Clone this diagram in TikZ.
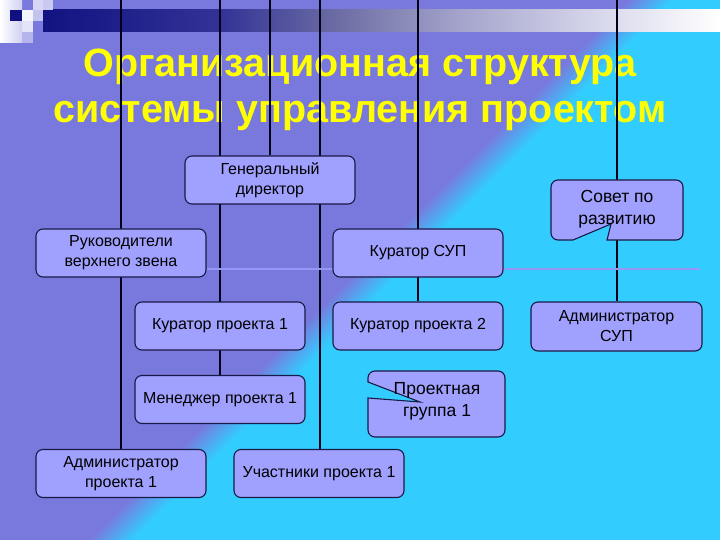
\documentclass[tikz,border=0pt]{standalone}
\usepackage{fontspec}
\setmainfont{Liberation Sans}
\definecolor{bgpurple}{RGB}{121,121,221}
\definecolor{bgcyan}{RGB}{51,204,255}
\definecolor{boxfill}{RGB}{160,160,255}
\definecolor{boxline}{RGB}{25,25,70}
\definecolor{hlinec}{RGB}{150,150,245}
\definecolor{bandA}{RGB}{18,18,130}
\definecolor{bandB}{RGB}{50,50,150}
\definecolor{bandC}{RGB}{110,110,165}
\definecolor{bandD}{RGB}{165,165,205}
\definecolor{bandE}{RGB}{215,215,235}
\definecolor{titleyellow}{RGB}{255,255,0}
\definecolor{sqnavy}{RGB}{16,16,128}
\pgfdeclarehorizontalshading{bandshade}{100bp}{color(0bp)=(bandA); color(25bp)=(bandA); color(38bp)=(bandB); color(47bp)=(bandC); color(56bp)=(bandD); color(66bp)=(bandE); color(75bp)=(white); color(100bp)=(white)}
\pgfdeclarelayer{bgfill}
\pgfdeclarelayer{lines}
\pgfdeclarelayer{shapes}
\pgfsetlayers{bgfill,lines,shapes,main}
\tikzset{
  orgbox/.style={draw=boxline, line width=1.1pt, fill=boxfill, rounded corners=7pt,
    minimum width=170pt, minimum height=48pt, align=center, inner sep=1pt,
    font=\fontsize{16}{20}\selectfont},
  calltext/.style={align=center, inner sep=0pt, font=\fontsize{17.5}{22}\selectfont},
  callout/.style={draw=boxline, line width=1.1pt, fill=boxfill},
  vline/.style={line width=2pt, draw=black!90!blue},
  hline/.style={line width=2pt, draw=hlinec},
}
\begin{document}
\begin{tikzpicture}[x=1pt,y=-1pt]
\useasboundingbox (0,0) rectangle (720,540);
% nodes
\node[orgbox] (gd) at (270,180) {Генеральный\\директор};
\node[orgbox] (ruk) at (121,253) {Руководители\\верхнего звена};
\node[orgbox] (ksup) at (418,253) {Куратор СУП};
\node[calltext] (sovet) at (617,209) {Совет по\\развитию};
\node[orgbox] (kp1) at (220,326) {Куратор проекта 1};
\node[orgbox] (kp2) at (418,326) {Куратор проекта 2};
\node[orgbox, minimum width=171pt, minimum height=49pt] (asup) at (616.5,326.5) {Администратор\\СУП};
\node[orgbox] (mp1) at (220,399.5) {Менеджер проекта 1};
\node[calltext] (pg1) at (437,401) {Проектная\\группа 1};
\node[orgbox] (adm1) at (121,473.5) {Администратор\\проекта 1};
\node[orgbox] (uch) at (319,473.5) {Участники проекта 1};
% callout outlines
\begin{pgfonlayer}{shapes}
\path[callout] (573,240) -- (558,240) arc[start angle=90, end angle=180, radius=7]
  -- (551,187) arc[start angle=180, end angle=270, radius=7]
  -- (676,180) arc[start angle=270, end angle=360, radius=7]
  -- (683,233) arc[start angle=0, end angle=90, radius=7]
  -- (607,240) -- (611,224) -- cycle;
\path[callout] (368,398) -- (368,430) arc[start angle=180, end angle=90, radius=7]
  -- (498,437) arc[start angle=90, end angle=0, radius=7]
  -- (505,378) arc[start angle=0, end angle=-90, radius=7]
  -- (375,371) arc[start angle=270, end angle=180, radius=7]
  -- (368,382) -- (420,402) -- cycle;
\end{pgfonlayer}
% background
\begin{pgfonlayer}{bgfill}
\fill[bgpurple] (0,0) rectangle (720,540);
\foreach \i in {0,...,20} {
  \pgfmathsetmacro\c{628+2.2*\i}
  \pgfmathtruncatemacro\m{\i*5}
  \fill[bgcyan!\m!bgpurple] (\c,0) -- (720,0) -- (720,540) -- (\c-540,540) -- cycle;
}
\shade[shading=bandshade] (43,10) rectangle (720,32);
\shade[left color=white, right color=bgpurple!35!white] (0,0) rectangle (22,43);
\fill[sqnavy] (10,10) rectangle (22,21);
\fill[white!92!bgpurple] (22,10) rectangle (33,21);
\fill[white!55!bgpurple] (33,10) rectangle (43,21);
\fill[white!80!bgpurple] (22,21) rectangle (33,32);
\fill[white!45!bgpurple] (22,32) rectangle (33,43);
\fill[white!60!bgpurple] (43,0) rectangle (53,10);
\fill[white!70!bgpurple] (33,0) rectangle (43,10);
\node[font=\fontsize{39.5}{46}\selectfont\bfseries, text=titleyellow, align=center, anchor=base]
  (title) at (360,123) {Организационная структура\\системы управления проектом};
\end{pgfonlayer}
% connectors
\begin{pgfonlayer}{lines}
\coordinate (t1) at (121,0);
\coordinate (t2) at (220,0);
\coordinate (t3) at (270,0);
\coordinate (t4) at (320,0);
\coordinate (t5) at (418,0);
\coordinate (t6) at (617,0);
\coordinate (hend) at (700,269);
\draw[vline] (t1) -- (adm1.north -| t1);
\draw[vline] (t2) -- (mp1.north -| t2);
\draw[vline] (t3) -- (gd.north -| t3);
\draw[vline] (t4) -- (uch.north -| t4);
\draw[vline] (t5) -- (kp2.north -| t5);
\draw[vline] (t6) -- (asup.north -| t6);
\draw[hline] (ruk.east |- hend) -- (hend);
\end{pgfonlayer}
\end{tikzpicture}
\end{document}
